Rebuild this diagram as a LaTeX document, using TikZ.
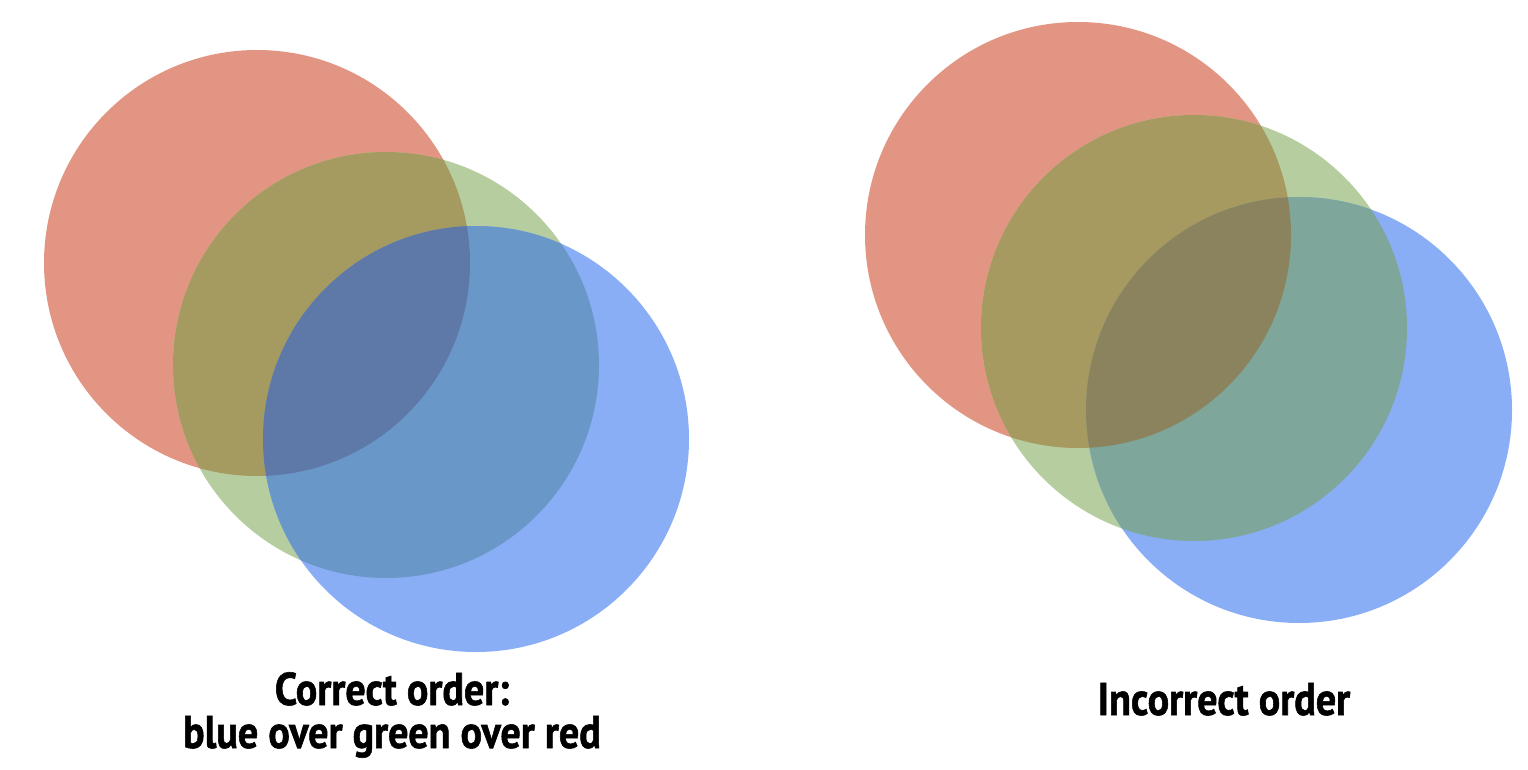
\documentclass[tikz,border=0pt]{standalone}
\usepackage{fontspec}
\setmainfont{PT Sans}[FakeStretch=0.87, BoldFeatures={FakeBold=1.2}]
\definecolor{redc}{HTML}{E29582}
\definecolor{greenc}{HTML}{B5CD9F}
\definecolor{bluec}{HTML}{8AAEF5}
\definecolor{rgL}{HTML}{A59A5F}
\definecolor{gbL}{HTML}{6897C8}
\definecolor{rgbL}{HTML}{5E79A7}
\definecolor{rgR}{HTML}{A79A60}
\definecolor{gbR}{HTML}{7EA69A}
\definecolor{rgbR}{HTML}{8A835E}
\tikzset{
  disc/.style={radius=213pt},
  caption/.style={font=\bfseries\fontsize{46}{43}\selectfont, align=center, inner sep=0pt, text=black}
}
\begin{document}
\begin{tikzpicture}[x=1pt,y=-1pt]
\useasboundingbox (0,0) rectangle (1528,770);
% ---------- left group: correct order ----------
\coordinate (lr) at (257,263);
\coordinate (lg) at (386,365);
\coordinate (lb) at (476,439);
\fill[redc] (lr) circle[disc];
\fill[greenc] (lg) circle[disc];
\fill[bluec] (lb) circle[disc];
\begin{scope}
  \clip (lr) circle[disc];
  \fill[rgL] (lg) circle[disc];
\end{scope}
\begin{scope}
  \clip (lg) circle[disc];
  \fill[gbL] (lb) circle[disc];
\end{scope}
\begin{scope}
  \clip (lr) circle[disc];
  \clip (lg) circle[disc];
  \fill[rgbL] (lb) circle[disc];
\end{scope}
% ---------- right group: incorrect order ----------
\coordinate (rr) at (1078,235);
\coordinate (rg) at (1194,328);
\coordinate (rb) at (1299,410);
\fill[redc] (rr) circle[disc];
\fill[greenc] (rg) circle[disc];
\fill[bluec] (rb) circle[disc];
\begin{scope}
  \clip (rr) circle[disc];
  \fill[rgR] (rg) circle[disc];
\end{scope}
\begin{scope}
  \clip (rg) circle[disc];
  \fill[gbR] (rb) circle[disc];
\end{scope}
\begin{scope}
  \clip (rr) circle[disc];
  \clip (rg) circle[disc];
  \fill[rgbR] (rb) circle[disc];
\end{scope}
% ---------- captions ----------
\node[caption, anchor=base] (capL) at (392,748) {Correct order:\\blue over green over red};
\node[caption, anchor=base] (capR) at (1224,715) {Incorrect order};
\end{tikzpicture}
\end{document}
